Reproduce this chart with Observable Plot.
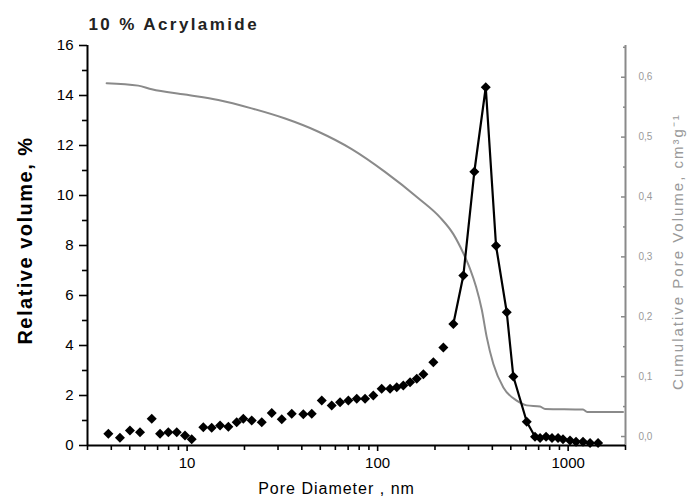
<!DOCTYPE html>
<html><head><meta charset="utf-8">
<script src="https://cdn.jsdelivr.net/npm/d3@7"></script>
<script src="https://cdn.jsdelivr.net/npm/@observablehq/plot@0.6"></script>
<style>
html,body{margin:0;padding:0;background:#fff;}
#chart svg{display:block;}
</style></head><body><div id="chart"></div>
<script>
// Relative volume (%) vs pore diameter (nm)
const poreDiameter = [3.86,4.44,5.01,5.66,6.52,7.21,7.97,8.82,9.75,10.57,12.16,13.46,14.89,16.46,18.21,19.72,21.83,24.64,27.81,31.38,35.41,40.74,45.1,50.9,57.4,63.5,70.2,77.7,85.9,94.9,105,116.2,126,136.4,148,160.4,173.8,196.1,221.3,249.7,281.8,321.8,369.4,418.3,476.1,515.6,606.3,670,712,766,823,885,940,1023,1100,1197,1303,1436];
const relativeVolume = [0.47,0.31,0.6,0.53,1.07,0.47,0.53,0.53,0.4,0.25,0.73,0.71,0.8,0.75,0.93,1.07,1.0,0.93,1.3,1.05,1.27,1.25,1.27,1.8,1.6,1.73,1.8,1.87,1.87,2.0,2.27,2.27,2.33,2.4,2.53,2.67,2.85,3.33,3.92,4.86,6.8,10.95,14.33,7.99,5.33,2.76,0.95,0.35,0.3,0.35,0.3,0.3,0.25,0.2,0.15,0.15,0.1,0.1];
const connectedFrom = 249.7; // the line joins the points from this diameter on

// Cumulative pore volume (cm3/g)
const cumDiameter = [3.78,5.54,6.52,9.75,14.58,21.8,32.7,48.9,73.1,109.3,163.6,212.6,249.7,281.8,305.5,328.6,352,373.8,405,457,537,606,712,757,1197,1259,1941];
const cumVolume = [0.590,0.586,0.580,0.571,0.562,0.548,0.531,0.509,0.480,0.442,0.398,0.366,0.338,0.306,0.280,0.250,0.212,0.166,0.121,0.082,0.060,0.052,0.050,0.046,0.045,0.041,0.041];

// Axes
const xDomain = [3, 2000];
const xMajor = [10, 100, 1000];
const xMinor = [3,4,5,6,7,8,9,20,30,40,50,60,70,80,90,200,300,400,500,600,700,800,900,2000];
const yDomain = [0, 16];
const yMajor = [0,2,4,6,8,10,12,14,16];
const yMinor = [1,3,5,7,9,11,13,15];
const cumDomain = [-0.015, 0.653];
const cumMajor = [0,0.1,0.2,0.3,0.4,0.5,0.6];
const cumMinor = [0.05,0.15,0.25,0.35,0.45,0.55,0.65];

const titleText = "10 % Acrylamide";
const xLabel = "Pore Diameter , nm";
const yLabel = "Relative volume, %";
const y2Label = "Cumulative Pore Volume, cm³g⁻¹";

// map right-axis values onto the left (shared) y scale
const toU = v => (v - cumDomain[0]) / (cumDomain[1] - cumDomain[0]) * (yDomain[1] - yDomain[0]) + yDomain[0];
const fromU = u => (u - yDomain[0]) / (yDomain[1] - yDomain[0]) * (cumDomain[1] - cumDomain[0]) + cumDomain[0];
const fmtC = d3.format(".1f");

const rel = poreDiameter.map((x, i) => ({x, y: relativeVolume[i]}));
const relLine = rel.filter(d => d.x >= connectedFrom);
const cum = cumDiameter.map((x, i) => ({x, y: toU(cumVolume[i])}));

const gray = "#8a8a8a";
const font = "'Liberation Sans', Arial, sans-serif";

const chart = Plot.plot({
  width: 691, height: 504,
  marginLeft: 87, marginRight: 66, marginTop: 45, marginBottom: 59,
  style: {fontFamily: font, background: "white", color: "black", overflow: "visible"},
  x: {type: "log", domain: xDomain, label: null},
  y: {domain: yDomain, label: null},
  marks: [
    Plot.axisX(xMinor, {tickSize: 5, tickFormat: () => "", strokeWidth: 1.6}),
    Plot.axisX(xMajor, {tickSize: 6, tickPadding: 6, tickFormat: d => String(d), fontSize: 15, strokeWidth: 1.6}),
    Plot.axisY(yMinor, {tickSize: 5, tickFormat: () => "", strokeWidth: 1.6}),
    Plot.axisY(yMajor, {tickSize: 8, tickPadding: 6, fontSize: 15, strokeWidth: 1.6}),
    Plot.axisY(cumMinor.map(toU), {anchor: "right", tickSize: 3, insetRight: 3, tickFormat: () => "", color: gray, strokeWidth: 1.5}),
    Plot.axisY(cumMajor.map(toU), {anchor: "right", tickSize: 5, insetRight: 5, tickPadding: 13,
      tickFormat: u => fmtC(fromU(u)).replace(".", ","), color: "#9a9a9a", stroke: gray, fontSize: 10, strokeWidth: 1.5}),
    Plot.ruleX([xDomain[1]], {stroke: gray, strokeWidth: 2}),
    Plot.ruleX([xDomain[0]], {stroke: "black", strokeWidth: 2}),
    Plot.ruleY([yDomain[0]], {stroke: "black", strokeWidth: 2}),
    Plot.line(cum, {x: "x", y: "y", stroke: gray, strokeWidth: 2, curve: "monotone-x"}),
    Plot.line(relLine, {x: "x", y: "y", stroke: "black", strokeWidth: 2.2}),
    Plot.dot(rel, {x: "x", y: "y", symbol: "square", rotate: 45, r: 4, fill: "black"}),
    Plot.text([titleText], {frameAnchor: "top-left", textAnchor: "start", dx: 1, dy: -28, fontSize: 17, fontWeight: "bold", fill: "#222"}),
    Plot.text([xLabel], {frameAnchor: "bottom", textAnchor: "middle", dx: -20, dy: 48, fontSize: 16}),
    Plot.text([yLabel], {frameAnchor: "left", textAnchor: "middle", rotate: -90, dx: -62, dy: -5, fontSize: 20, fontWeight: "bold"}),
    Plot.text([y2Label], {frameAnchor: "right", textAnchor: "middle", rotate: -90, dx: 53, dy: 6, fontSize: 15, fill: "#999"})
  ]
});
document.getElementById("chart").appendChild(chart);
const spacing = {[titleText]: "2.4px", [xLabel]: "1px", [yLabel]: "1.5px", [y2Label]: "2px"};
d3.select(chart).selectAll("text").each(function() {
  const s = spacing[this.textContent];
  if (s) this.setAttribute("letter-spacing", s);
});
</script>
</body></html>
